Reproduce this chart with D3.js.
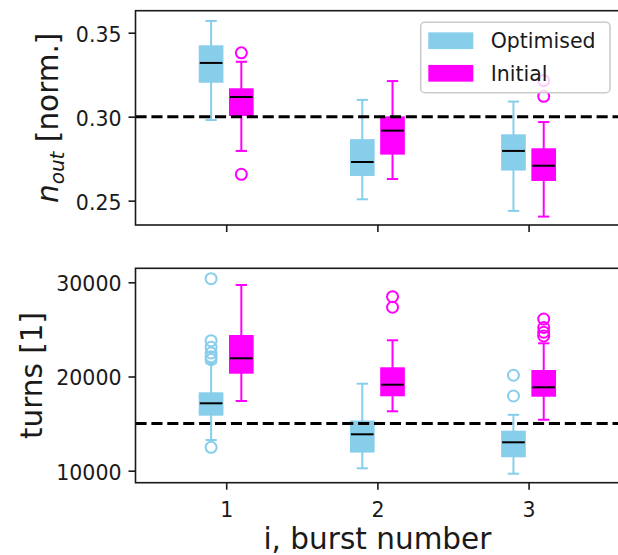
<!DOCTYPE html>
<html>
<head>
<meta charset="utf-8">
<script src="https://cdn.jsdelivr.net/npm/d3@7"></script>
<style>
  html, body { margin: 0; padding: 0; background: #fff; }
  svg { display: block; font-family: "DejaVu Sans", sans-serif; }
</style>
</head>
<body>
<svg id="chart" width="618" height="555"></svg>
<script>
// ---------------- data ----------------
const categories = [1, 2, 3];
const seriesNames = ["Optimised", "Initial"];
const seriesColors = ["#87CEEB", "#FF00FF"];
const seriesOffsets = [-0.1, 0.1];

// five-number summaries per burst: [lowWhisker, q1, median, q3, highWhisker]
const nOutOptimised = [
  [0.298, 0.3208, 0.332, 0.3419, 0.357],
  [0.2508, 0.2653, 0.273, 0.286, 0.310],
  [0.2439, 0.2685, 0.2796, 0.2889, 0.309]
];
const nOutOptimisedFliers = [[], [], []];
const nOutInitial = [
  [0.2796, 0.301, 0.3117, 0.3163, 0.3327],
  [0.2629, 0.278, 0.2917, 0.2996, 0.3212],
  [0.2405, 0.2623, 0.2708, 0.2806, 0.2968]
];
const nOutInitialFliers = [[0.338, 0.2657], [], [0.3215, 0.3121]];

const turnsOptimised = [
  [13259, 15945, 17155, 18217, 21400],
  [10255, 12028, 13864, 15223, 19236],
  [9682, 11529, 13015, 14140, 15930]
];
const turnsOptimisedFliers = [[30380, 23800, 23100, 22500, 22100, 21800, 12480], [], [20130, 17930]];
const turnsInitial = [
  [17399, 20403, 21932, 24299, 29713],
  [16306, 18004, 19130, 20870, 23843],
  [15406, 17958, 18853, 20584, 23524]
];
const turnsInitialFliers = [[], [28470, 27350], [26100, 25200, 24700, 24300]];

const nOutTarget = 0.30;
const turnsTarget = 15000;

const nOutTicks = [0.25, 0.30, 0.35];
const turnsTicks = [10000, 20000, 30000];
const xTicks = [1, 2, 3];

const nOutLabel = { main: "n", sub: "out", rest: " [norm.]" };
const turnsLabel = "turns [1]";
const xLabel = "i, burst number";

// ---------------- layout ----------------
const svg = d3.select("#chart");
const plotLeft = 135.5, plotRight = 619.3;
const boxWidth = 0.15;
const tickFont = 20.5, labelFont = 29.5;
const ink = "#1a1a1a";

const x = d3.scaleLinear().domain([0.4, 3.6]).range([plotLeft, plotRight]);

const panels = [
  {
    y0: 10.7, y1: 225, domain: [0.2355, 0.3631], ticks: nOutTicks, fmt: d3.format(".2f"),
    data: [nOutOptimised, nOutInitial], fliers: [nOutOptimisedFliers, nOutInitialFliers],
    target: nOutTarget, xLabels: false
  },
  {
    y0: 268.3, y1: 482.7, domain: [8726, 31486], ticks: turnsTicks, fmt: d3.format("d"),
    data: [turnsOptimised, turnsInitial], fliers: [turnsOptimisedFliers, turnsInitialFliers],
    target: turnsTarget, xLabels: true
  }
];

panels.forEach((p) => {
  const y = d3.scaleLinear().domain(p.domain).range([p.y1, p.y0]);
  const g = svg.append("g");

  // boxes
  p.data.forEach((series, si) => {
    const col = seriesColors[si];
    series.forEach((s, ci) => {
      const cx = x(categories[ci] + seriesOffsets[si]);
      const halfW = x(boxWidth / 2) - x(0);
      const capW = halfW / 2;
      const [lo, q1, med, q3, hi] = s;
      g.append("line").attr("x1", cx).attr("x2", cx).attr("y1", y(q1)).attr("y2", y(lo))
        .attr("stroke", col).attr("stroke-width", 2);
      g.append("line").attr("x1", cx).attr("x2", cx).attr("y1", y(q3)).attr("y2", y(hi))
        .attr("stroke", col).attr("stroke-width", 2);
      [lo, hi].forEach(v => {
        g.append("line").attr("x1", cx - capW).attr("x2", cx + capW).attr("y1", y(v)).attr("y2", y(v))
          .attr("stroke", col).attr("stroke-width", 2);
      });
      g.append("rect").attr("x", cx - halfW).attr("width", 2 * halfW)
        .attr("y", y(q3)).attr("height", y(q1) - y(q3))
        .attr("fill", col).attr("stroke", col).attr("stroke-width", 2);
      g.append("line").attr("x1", cx - halfW).attr("x2", cx + halfW).attr("y1", y(med)).attr("y2", y(med))
        .attr("stroke", "#000").attr("stroke-width", 2);
      p.fliers[si][ci].forEach(v => {
        g.append("circle").attr("cx", cx).attr("cy", y(v)).attr("r", 5.5)
          .attr("fill", "none").attr("stroke", col).attr("stroke-width", 2);
      });
    });
  });

  // reference dashed line
  g.append("line").attr("x1", plotLeft).attr("x2", plotRight).attr("y1", y(p.target)).attr("y2", y(p.target))
    .attr("stroke", "#000").attr("stroke-width", 3).attr("stroke-dasharray", "11.1,4.8");

  // spines
  g.append("rect").attr("x", plotLeft).attr("y", p.y0).attr("width", plotRight - plotLeft).attr("height", p.y1 - p.y0)
    .attr("fill", "none").attr("stroke", ink).attr("stroke-width", 1.6);

  // y axis
  const ya = g.append("g").attr("transform", `translate(${plotLeft},0)`)
    .call(d3.axisLeft(y).tickValues(p.ticks).tickFormat(p.fmt).tickSize(7).tickPadding(7));
  ya.select(".domain").remove();
  ya.selectAll(".tick line").attr("stroke", ink).attr("stroke-width", 1.6);
  ya.selectAll(".tick text").attr("font-size", tickFont).attr("fill", ink)
    .attr("font-family", "DejaVu Sans").attr("dy", "0.41em");

  // x axis
  const xa = g.append("g").attr("transform", `translate(0,${p.y1})`)
    .call(d3.axisBottom(x).tickValues(xTicks).tickFormat(p.xLabels ? d3.format("d") : () => "").tickSize(7).tickPadding(7));
  xa.select(".domain").remove();
  xa.selectAll(".tick line").attr("stroke", ink).attr("stroke-width", 1.6);
  xa.selectAll(".tick text").attr("font-size", tickFont).attr("fill", ink)
    .attr("font-family", "DejaVu Sans").attr("dy", "0.98em");
});

// y labels
const pTop = panels[0], pBot = panels[1];
const yl1 = svg.append("text")
  .attr("transform", `translate(58,${(pTop.y0 + pTop.y1) / 2}) rotate(-90)`)
  .attr("text-anchor", "middle").attr("font-size", labelFont).attr("fill", ink);
yl1.append("tspan").attr("font-style", "italic").text(nOutLabel.main);
yl1.append("tspan").attr("font-style", "italic").attr("font-size", labelFont * 0.68).attr("dy", 6).text(nOutLabel.sub);
yl1.append("tspan").attr("dy", -6).text(nOutLabel.rest);

svg.append("text")
  .attr("transform", `translate(41.5,${(pBot.y0 + pBot.y1) / 2}) rotate(-90)`)
  .attr("text-anchor", "middle").attr("font-size", labelFont).attr("fill", ink)
  .text(turnsLabel);

// x label
svg.append("text").attr("x", (plotLeft + plotRight) / 2).attr("y", 549)
  .attr("text-anchor", "middle").attr("font-size", labelFont).attr("fill", ink)
  .text(xLabel);

// legend
const lg = svg.append("g");
lg.append("rect").attr("x", 420.7).attr("y", 22.3).attr("width", 189.3).attr("height", 70.4)
  .attr("rx", 4).attr("fill", "#fff").attr("fill-opacity", 0.8).attr("stroke", "#cccccc").attr("stroke-width", 1.6);
seriesNames.forEach((name, i) => {
  const cy = 40.7 + i * 32.6;
  lg.append("rect").attr("x", 428.3).attr("y", cy - 8.35).attr("width", 45).attr("height", 16.7)
    .attr("fill", seriesColors[i]);
  lg.append("text").attr("x", 490.7).attr("y", cy).attr("dy", "0.36em")
    .attr("font-size", tickFont).attr("fill", ink).text(name);
});
</script>
</body>
</html>
